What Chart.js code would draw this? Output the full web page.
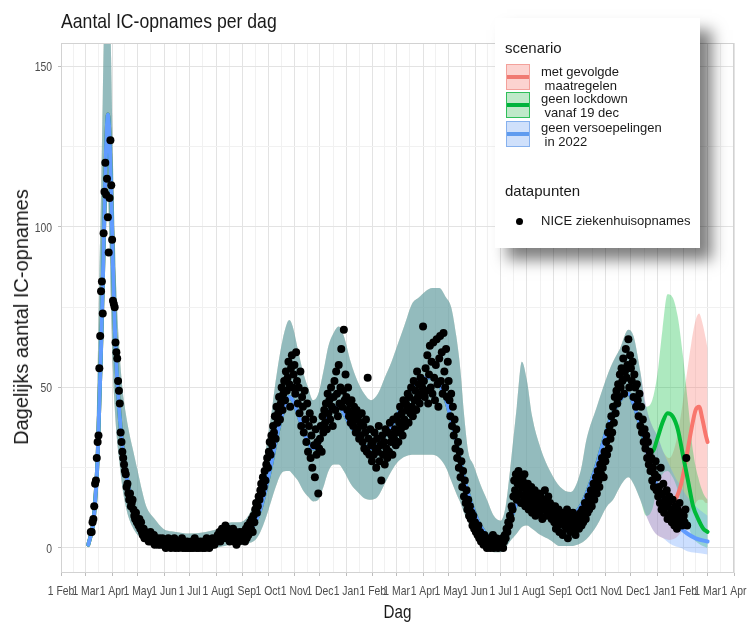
<!DOCTYPE html>
<html><head><meta charset="utf-8">
<script src="https://cdn.jsdelivr.net/npm/chart.js@4.4.1/dist/chart.umd.min.js"></script>
<style>
html,body{margin:0;padding:0;background:#fff;}
#wrap{position:relative;width:749px;height:627px;overflow:hidden;}
#c{position:absolute;left:0;top:0;}
#title{position:absolute;left:61px;top:9px;font:21px/24px "Liberation Sans",sans-serif;color:#1a1a1a;white-space:nowrap;transform:scaleX(0.84);transform-origin:0 0;}
#ytitle{position:absolute;left:21px;top:317px;transform:translate(-50%,-50%) rotate(-90deg);font:20px/24px "Liberation Sans",sans-serif;color:#1a1a1a;white-space:nowrap;}
#legend{position:absolute;left:495px;top:18px;width:205px;height:230px;background:#fff;box-shadow:12px 12px 14px rgba(0,0,0,0.5);}
.lt{position:absolute;left:10px;font:15px/18px "Liberation Sans",sans-serif;color:#1a1a1a;white-space:nowrap;}
.kt{position:absolute;left:46px;font:13px/13.5px "Liberation Sans",sans-serif;color:#1a1a1a;white-space:pre;}
.key{position:absolute;left:11px;width:24px;height:26px;box-sizing:border-box;border:1.5px solid;}
.key i{position:absolute;left:0;right:0;top:50%;height:4px;margin-top:-2px;}
.dot{position:absolute;left:20.5px;top:199.5px;width:7px;height:7px;border-radius:50%;background:#000;}
</style>
</head>
<body>
<div id="wrap">
<canvas id="c" width="749" height="627"></canvas>
<div id="title">Aantal IC-opnames per dag</div>
<div id="ytitle">Dagelijks aantal IC-opnames</div>
<div id="legend">
 <div class="lt" style="top:21px">scenario</div>
 <div class="key" style="top:46px;background:#fcd3d0;border-color:#f3a19b"><i style="background:#f07a72"></i></div>
 <div class="kt" style="top:47px">met gevolgde
 maatregelen</div>
 <div class="key" style="top:74px;background:#bfe9c9;border-color:#2fbf5a"><i style="background:#00b33c"></i></div>
 <div class="kt" style="top:74px">geen lockdown
 vanaf 19 dec</div>
 <div class="key" style="top:103px;background:#cfe0fb;border-color:#86b1ee"><i style="background:#5f9bef"></i></div>
 <div class="kt" style="top:103px">geen versoepelingen
 in 2022</div>
 <div class="lt" style="top:164px">datapunten</div>
 <span class="dot"></span>
 <div class="kt" style="top:196px">NICE ziekenhuisopnames</div>
</div>
</div>
<script>
// ---- axis ----
const dayZeroISO = '2020-02-01';
const monthLabels = ['1 Feb','1 Mar','1 Apr','1 May','1 Jun','1 Jul','1 Aug','1 Sep','1 Oct','1 Nov','1 Dec',
  '1 Jan','1 Feb','1 Mar','1 Apr','1 May','1 Jun','1 Jul','1 Aug','1 Sep','1 Oct','1 Nov','1 Dec',
  '1 Jan','1 Feb','1 Mar','1 Apr'];
const yMajorTicks = [0, 50, 100, 150];
const yMinorTicks = [25, 75, 125];

// ---- NICE data points (daily), each array starts at its start date ----
const nice2020Start = '2020-03-07';
const nice2020 = [
 5,5,8,9,13,20,21,28,33,35,56,66,80,83,73,98,111,120,110,115,103,92,109,127,113,
 96,77,76,75,64,61,59,52,49,45,36,33,30,28,26,24,23,19,20,17,15,17,13,14,15,12,10,9,11,8,
 8,7,9,6,8,5,4,6,3,5,4,3,4,2,3,5,2,3,2,4,1,3,2,2,1,3,2,1,2,3,1,
 2,1,0,2,1,3,1,2,0,1,2,1,3,0,1,2,1,0,2,1,1,3,0,2,1,0,1,2,0,1,
 1,0,2,1,0,1,3,1,0,2,1,0,1,2,1,0,1,2,0,1,3,1,2,0,1,2,1,3,2,1,2,
 3,2,4,3,5,2,4,6,3,5,4,7,3,5,6,4,2,5,3,4,6,2,3,5,1,4,3,2,5,3,4,
 3,5,4,2,6,3,7,4,5,8,6,9,5,10,8,12,14,11,13,16,15,18,20,17,22,19,24,21,26,28,
 25,30,33,29,35,32,38,36,41,34,44,39,42,47,40,45,50,43,48,52,46,55,49,53,58,51,44,56,60,50,54,
 57,48,61,52,45,50,42,55,38,47,44,36,49,40,33,45,30,38,42,28,35,25,40,32,22,37,29,33,17,31,
 34,38,30,41,36,43,39,45,37,48,42,46,40,50,44,38,47,52,43,55,48,41,57,45,50,62,44,49,68,46,54
];
const nice2021Start = '2021-01-01';
const nice2021 = [
 47,43,50,41,45,39,46,42,38,44,40,36,43,37,41,34,39,35,42,33,38,31,36,40,30,53,34,29,37,32,27,
 33,29,36,31,25,34,30,38,27,32,21,35,29,33,26,37,31,28,36,30,39,33,35,29,40,34,37,32,
 36,41,33,39,44,37,42,35,46,40,38,45,43,48,39,47,42,50,44,41,52,46,49,43,55,47,51,45,53,48,50,
 69,52,47,56,49,60,45,54,63,50,58,48,64,53,46,57,65,51,44,59,66,52,61,48,67,55,50,62,47,58,
 52,46,41,48,38,44,35,40,31,37,28,33,25,30,22,27,19,24,16,21,14,18,12,15,10,13,9,11,7,10,6,
 8,5,6,4,7,3,5,2,4,3,1,4,2,3,0,2,1,3,0,2,1,4,0,1,2,3,1,0,2,1,
 1,2,3,0,2,4,3,6,5,8,7,10,9,13,12,16,21,18,23,15,20,24,17,22,14,19,21,16,23,13,18,
 15,20,12,17,14,19,11,16,13,18,10,15,14,12,17,11,16,13,9,15,12,18,14,10,13,16,11,14,12,9,13,
 11,8,13,6,10,7,12,5,9,8,11,4,10,7,9,6,12,3,8,10,5,9,7,11,6,8,4,10,7,9,
 6,9,11,7,12,8,10,14,9,13,11,16,12,15,18,13,17,20,15,19,22,17,24,21,19,26,23,28,25,22,30,
 27,33,29,36,31,38,34,41,36,44,39,47,42,49,45,51,47,54,50,56,52,59,48,55,62,53,57,65,50,60,
 56,52,58,47,54,50,44,51,46,41,48,38,44,36,40,33,37,31,35,28,33,26,30,24,28,21,25,19,23,27,18
];
const nice2022Start = '2022-01-01';
const nice2022 = [
 22,16,19,14,25,12,17,20,11,15,13,18,9,14,16,10,12,8,15,11,7,13,9,6,12,10,14,8,11,7,9,
 10,8,12,28,7
];

// ---- model fit until 19 Dec 2021 (days since 1 Feb 2020), shared by all scenarios ----
const histDays = [32,35,38,41,43,45,47,49,51,53,55,57,59,61,63,65,68,72,76,80,85,90,95,100,110,120,135,150,170,190,200,210,220,228,234,240,246,252,258,264,268,272,278,284,290,296,302,308,314,320,326,332,340,348,356,364,372,380,388,396,404,412,420,428,436,444,452,458,464,469,473,478,484,492,500,508,516,522,527,535,541,547,553,563,574,586,598,610,617,629,641,648,656,666,672,680,687];
const histLower = [0,2,5,12,20,32,48,65,88,105,110,95,72,55,44,36,28,19,13,9,6,4,2.5,1.5,0.5,0,-0.5,-0.5,-0.5,0.5,1,1,1.5,2.5,5,9,14,19,23,24,24,23,21,18,16,14.5,15,19,24,26,26,24,20,17.5,15.5,15,16,20,24,27,28.5,29,29,29,29,28,25,21,17,14,11,8,5,2,0.5,-1.3,-1.3,0,2,4.5,6.5,7,6,4,2.5,0.6,0.6,1.5,2.8,7,13,15,19,22,20,15,10];
const histMedian = [1,4,8,18,28,45,62,82,105,125,135,128,110,88,70,57,44,32,24,18,13,9,6,4,2.5,2,1.5,1.5,1.8,2.5,3,3.5,5,8,12,18,25,33,40,45,47,46,42,37,33,31,32,37,42,44,44,42,38,35,32,31,32,35,38,42,46,50,52,53,53,51,46,40,33,27,22,17,12,7,4,2.5,2.5,4,8,14,17,17,16,14,12,10,10,13,17,26,37,42,46,48,45,38,31];
const histUpper = [3,7,14,30,55,85,110,140,170,190,190,175,150,120,98,80,64,50,42,36,30,24,18,13,9,6,5,4.5,5,6.5,8,8,10,15,21,30,40,52,62,69,71,69,62,55,50,46,48,55,63,67,69,66,58,52,48,46,48,53,58,64,70,76,78,80,81,81,78,75,66,55,42,30,26,20,15,10,8.5,13,24,44,58,52,41,31,24,19,17.4,24,34,44,53.5,58,62,68,66,55,44];

// ---- scenario continuations ----
const redDays   = [694,700,707,714,721,728,734,740,745,749,753,757,759];
const redLower  = [6,4,3,2.5,3,5,8,12,14,15,15,14,14];
const redMedian = [24,19,16,14,15,20,28,37,43,44,40,35,33];
const redUpper  = [38,35,30,28,32,42,53,64,71,73,70,65,62];

const greenDays   = [694,700,706,712,718,724,730,736,742,748,754,759];
const greenLower  = [12,19,23,24,22,18,12,7,3,1.5,0.5,0];
const greenMedian = [30,34,39,42,41,37,29,21,13,9,6,5];
const greenUpper  = [46,54,68,79,78,72,60,45,30,22,17,15];

const blueDays   = [694,700,707,714,721,728,735,745,759];
const blueLower  = [6,4,3,1.5,0.5,0,-1,-1.5,-2];
const blueMedian = [24,19,15,12,8.5,6,4.5,3,2];
const blueUpper  = [38,35,30,26,22,19,16,13,10];

// ---- build ----
const DAY = 86400000;
const t0 = Date.parse(dayZeroISO + 'T00:00:00Z');
const dayOf = iso => Math.round((Date.parse(iso + 'T00:00:00Z') - t0) / DAY);
const monthDays = monthLabels.map((_, i) => Math.round((Date.UTC(2020, 1 + i, 1) - t0) / DAY));
const minorDays = monthDays.slice(0, -1).map((d, i) => (d + monthDays[i + 1]) / 2);
const majorSet = new Set(monthDays);
const xTicks = monthDays.concat(minorDays).sort((a, b) => a - b);
const yTicks = yMajorTicks.concat(yMinorTicks).sort((a, b) => a - b);

const pts = [];
[[nice2020Start, nice2020], [nice2021Start, nice2021], [nice2022Start, nice2022]].forEach(([s, arr]) => {
  const d0 = dayOf(s);
  arr.forEach((v, i) => pts.push({x: d0 + i, y: v}));
});
const series = (xs, ys) => xs.map((x, i) => ({x, y: ys[i]}));
const full = (days, vals, hv) => series(histDays.concat(days), hv.concat(vals));

const RED = '#F8766D', GREEN = '#00BA38', BLUE = '#619CFF';
const A = 0.32;
const band = (rgb, days, lo, up, ord) => [
  {data: full(days, lo, histLower), borderWidth: 0, pointRadius: 0, fill: false, order: ord + 1, cubicInterpolationMode: 'monotone'},
  {data: full(days, up, histUpper), borderWidth: 0, pointRadius: 0, fill: '-1', backgroundColor: `rgba(${rgb},${A})`, order: ord, cubicInterpolationMode: 'monotone'}
];
const med = (col, days, m, ord) => ({data: full(days, m, histMedian), borderColor: col, borderWidth: 4, pointRadius: 0, fill: false, order: ord, cubicInterpolationMode: 'monotone', borderCapStyle: 'round'});

const datasets = [
  ...band('248,118,109', redDays, redLower, redUpper, 8),
  ...band('0,186,56', greenDays, greenLower, greenUpper, 6),
  ...band('97,156,255', blueDays, blueLower, blueUpper, 4),
  med(RED, redDays, redMedian, 3),
  med(GREEN, greenDays, greenMedian, 2),
  med(BLUE, blueDays, blueMedian, 1),
  {data: pts, showLine: false, pointRadius: 4, pointHoverRadius: 4, pointBackgroundColor: '#000', pointBorderWidth: 0, order: 0}
];

const FONT = "'Liberation Sans',Arial,sans-serif";
const NARROW = 0.8;
// panel border + narrow tick labels and x title
const decor = {
  id: 'decor',
  afterDraw(chart) {
    const {ctx, chartArea: a, scales} = chart;
    ctx.save();
    ctx.strokeStyle = '#d2d2d2';
    ctx.lineWidth = 1;
    ctx.strokeRect(Math.round(a.left) + 0.5, Math.round(a.top) + 0.5, Math.round(a.right - a.left) - 1, Math.round(a.bottom - a.top) - 1);
    ctx.fillStyle = '#4d4d4d';
    ctx.font = '13px ' + FONT;
    ctx.textBaseline = 'alphabetic';
    monthDays.forEach((d, i) => {
      const x = scales.x.getPixelForValue(d);
      ctx.save(); ctx.translate(x, 595); ctx.scale(NARROW, 1);
      ctx.textAlign = 'center'; ctx.fillText(monthLabels[i], 0, 0); ctx.restore();
    });
    yMajorTicks.forEach(v => {
      const y = scales.y.getPixelForValue(v);
      ctx.save(); ctx.translate(52, y + 4.6); ctx.scale(NARROW, 1);
      ctx.textAlign = 'right'; ctx.fillText(String(v), 0, 0); ctx.restore();
    });
    ctx.fillStyle = '#1a1a1a';
    ctx.font = '19px ' + FONT;
    ctx.save(); ctx.translate((a.left + a.right) / 2, 618); ctx.scale(NARROW, 1);
    ctx.textAlign = 'center'; ctx.fillText('Dag', 0, 0); ctx.restore();
    ctx.restore();
  }
};

new Chart(document.getElementById('c'), {
  type: 'line',
  data: {datasets},
  options: {
    responsive: false, animation: false, devicePixelRatio: 1,
    layout: {padding: {top: 43, right: 15, bottom: 0, left: 0}},
    plugins: {legend: {display: false}, tooltip: {enabled: false}, title: {display: false}},
    scales: {
      x: {
        type: 'linear', min: 0, max: 790,
        afterBuildTicks: s => { s.ticks = xTicks.map(v => ({value: v})); },
        afterFit: s => { s.height = 54; s.paddingLeft = 0; s.paddingRight = 0; },
        ticks: {display: false},
        grid: {
          color: c => majorSet.has(c.tick && c.tick.value) ? '#e3e3e3' : '#f1f1f1',
          tickColor: c => majorSet.has(c.tick && c.tick.value) ? '#bdbdbd' : 'rgba(0,0,0,0)',
          tickLength: 3, lineWidth: 1
        },
        border: {display: false}
      },
      y: {
        type: 'linear', min: -7.8, max: 157.3,
        afterBuildTicks: s => { s.ticks = yTicks.map(v => ({value: v})); },
        afterFit: s => { s.width = 61; s.paddingTop = 0; s.paddingBottom = 0; },
        ticks: {display: false},
        grid: {
          color: c => yMajorTicks.includes(c.tick && c.tick.value) ? '#e3e3e3' : '#f1f1f1',
          tickColor: c => yMajorTicks.includes(c.tick && c.tick.value) ? '#bdbdbd' : 'rgba(0,0,0,0)',
          tickLength: 3, lineWidth: 1
        },
        border: {display: false}
      }
    }
  },
  plugins: [decor]
});
</script>
</body></html>
